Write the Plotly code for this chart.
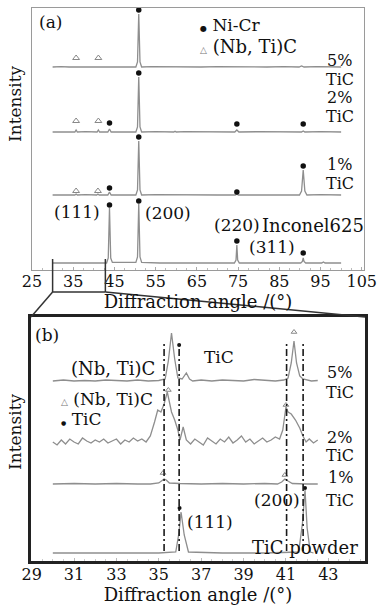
import plotly.graph_objects as go

# ---------------- Panel (a): full 2θ range ----------------
a_offsets = {"5%": 203, "2%": 138, "1%": 75, "Inconel625": 7}

a_x_5 = [30, 32, 34, 35.4, 35.7, 36.0, 38, 40.8, 41.1, 41.4, 43, 45, 47, 50.2, 50.6, 50.9, 51.2, 51.6,
         54, 58, 62, 66, 70, 74, 78, 82, 86, 89.8, 90.4, 91.0, 94, 97, 100]
a_y_5 = [0, 0.4, 0, 0, 0.6, 0, 0.3, 0, 0.6, 0, 0.3, 0, 0.3, 0, 5, 53, 5, 0,
         0.3, 0, 0.4, 0, 0.3, 0, 0.3, 0, 0.3, 0, 1, 0, 0.3, 0, 0]

a_x_2 = [30, 33, 35.4, 35.7, 36.0, 38, 40.8, 41.1, 41.4, 43.4, 43.8, 44.2, 47, 50.2, 50.6, 50.9, 51.2, 51.6,
         55, 59.4, 59.7, 60.0, 62, 66, 70, 74.2, 74.7, 75.2, 80, 85, 90.4, 90.8, 91.2, 95, 100]
a_y_2 = [0, 0.3, 0, 2, 0, 0.3, 0, 2, 0, 0, 3, 0, 0.3, 0, 5, 55, 5, 0,
         0.3, 0, 0.8, 0, 0.3, 0, 0.3, 0, 2, 0, 0.3, 0, 0, 1, 0, 0.3, 0]

a_x_1 = [30, 33, 35.4, 35.7, 36.0, 38, 40.7, 41.0, 41.3, 43.4, 43.8, 44.2, 47, 50.2, 50.6, 50.9, 51.2, 51.6,
         55, 60, 65, 70, 74.3, 74.7, 75.1, 80, 85, 89.9, 90.4, 90.8, 91.2, 91.7, 95, 100]
a_y_1 = [0, 0.3, 0, 1, 0, 0.3, 0, 1, 0, 0, 3, 0, 0.3, 0, 5, 54, 5, 0,
         0.3, 0, 0.3, 0, 0, 0.8, 0, 0.3, 0, 0, 4, 25, 4, 0, 0.3, 0]

a_x_inc = [30, 35, 40, 43.1, 43.5, 43.8, 44.1, 44.5, 47, 50.2, 50.6, 50.9, 51.2, 51.6, 56, 62, 68,
           74.1, 74.5, 74.7, 74.9, 75.3, 80, 85, 90.2, 90.6, 90.8, 91.0, 91.4, 95.3, 95.7, 96.1, 100]
a_y_inc = [0, 0.3, 0, 0, 5, 55, 5, 0.6, 0.6, 0.6, 6, 59, 6, 0.6, 0, 0.3, 0,
           0, 3, 18, 3, 0, 0.3, 0, 0, 1.5, 5, 1.5, 0, 0, 1, 0, 0]

# phase markers (angle, height above own baseline)
a_nicr = {
    "5%": ([50.9], [57]),
    "2%": ([43.8, 50.9, 74.7, 90.8], [9, 59, 8, 8]),
    "1%": ([43.8, 50.9, 74.7, 90.8], [7, 58, 3, 29]),
    "Inconel625": ([43.8, 50.9, 74.7, 90.8], [58, 62, 22, 10]),
}
a_nbtic = {
    "5%": ([35.7, 41.1], [9, 9]),
    "2%": ([35.7, 41.1], [11, 11]),
    "1%": ([35.7, 41.0], [4, 4]),
}
a_ticks = [25, 35, 45, 55, 65, 75, 85, 95, 105]

# ---------------- Panel (b): 29–45° zoom ----------------
b_offsets = {"5%": 180, "2%": 119, "1%": 77, "TiC powder": 8}

b_x_5 = [30, 30.5, 31, 31.5, 32, 32.5, 33, 33.5, 34, 34.5, 35, 35.3, 35.45, 35.6, 35.75, 35.9, 36.1,
         36.3, 36.45, 36.6, 37, 37.5, 38, 38.5, 39, 39.5, 40, 40.5, 40.9, 41.1, 41.25, 41.38, 41.5,
         41.65, 41.8, 42, 42.2, 42.5]
b_y_5 = [0, 1, 0, 0.5, 0, 1, 0.5, 0, 1, 0, 0.5, 2, 20, 48, 22, 3, 2,
         8, 2, 0, 1, 0, 1, 0.5, 0, 1.5, 0.5, 0, 1, 3, 18, 40, 18,
         5, 2, 1, 0, 0.5]

b_x_2 = [30.0, 30.2, 30.4, 30.6, 30.8, 31.0, 31.2, 31.4, 31.6, 31.8, 32.0, 32.2, 32.4, 32.6, 32.8,
         33.0, 33.2, 33.4, 33.6, 33.8, 34.0, 34.2, 34.4, 34.6, 34.8, 34.95, 35.1, 35.25, 35.4, 35.5,
         35.6, 35.75, 35.9, 36.0, 36.15, 36.3, 36.5, 36.7, 36.9, 37.1, 37.3, 37.5, 37.7, 37.9, 38.1,
         38.3, 38.5, 38.7, 38.9, 39.1, 39.3, 39.5, 39.7, 39.9, 40.1, 40.3, 40.5, 40.7, 40.85, 41.0,
         41.1, 41.25, 41.45, 41.65, 41.8, 41.95, 42.1, 42.3, 42.5]
b_y_2 = [0, -3, 2, -2, 3, 0, -2, 4, 1, -1, 2, 0, 3, -1, 1,
         3, -2, 2, 0, 4, 1, 3, 0, 6, 20, 32, 30, 38, 50, 40,
         30, 22, 12, 2, 15, 2, -2, 3, 0, -3, 4, 1, -2, 3, 0,
         5, -1, 2, 6, 0, 3, -2, 1, 4, 0, 2, 5, 3, 12, 35,
         30, 28, 22, 14, 6, 0, 3, -1, 2]

b_x_1 = [30, 31, 32, 33, 34, 34.6, 35.0, 35.15, 35.25, 35.35, 35.5, 36, 37, 38, 39, 40,
         40.6, 40.8, 40.95, 41.1, 41.3, 42, 42.5]
b_y_1 = [0, 0.5, 0, 0.5, 0, 0, 1, 4, 5, 4, 1, 0.5, 0, 0.5, 0, 0.5,
         0, 2, 5, 3, 0.5, 0, 0]

b_x_p = [30, 33, 35, 35.8, 35.95, 36.05, 36.2, 36.4, 38, 40, 41.6, 41.78, 41.9, 42.0, 42.15, 42.3]
b_y_p = [0, 0, 0, 1, 20, 41, 18, 1, 0, 0, 1, 30, 63, 25, 1, 0]

b_nbtic = {
    "5%": ([41.38], [49]),
    "2%": ([35.45, 41.0], [52, 37]),
    "1%": ([35.2, 40.95], [11, 9]),
}
b_tic = {
    "5%": ([35.96], [36]),
    "TiC powder": ([35.98, 41.9], [45, 65]),
}
b_ref_lines = [35.25, 35.96, 41.03, 41.81]
b_ticks = [29, 31, 33, 35, 37, 39, 41, 43]

# ---------------- figure ----------------
FONT = "DejaVu Serif"
LINE = "#8e8e8e"
W, H = 382, 612
ML, MR, MT, MB = 31, 17, 8, 51
PW, PH = W - ML - MR, H - MT - MB

A_XDOM = [(32 - ML) / PW, (364 - ML) / PW]
A_YDOM = [(H - MB - 270) / PH, 1.0]
B_XDOM = [0.0, 1.0]
B_YDOM = [0.0, (H - MB - 317) / PH]
A_XR = [25, 105.55]
B_XR = [28.97, 44.73]


def P(px, py):
    return (px - ML) / PW, (H - MB - py) / PH


fig = go.Figure()

a_series = [("5%", a_x_5, a_y_5), ("2%", a_x_2, a_y_2), ("1%", a_x_1, a_y_1), ("Inconel625", a_x_inc, a_y_inc)]
for name, xs, ys in a_series:
    off = a_offsets[name]
    fig.add_trace(go.Scatter(x=xs, y=[v + off for v in ys], mode="lines", line=dict(color=LINE, width=1.3),
                             xaxis="x", yaxis="y", showlegend=False, name=name))
for name, (xs, hs) in a_nicr.items():
    off = a_offsets[name]
    fig.add_trace(go.Scatter(x=xs, y=[h + off for h in hs], mode="markers",
                             marker=dict(symbol="circle", size=5.5, color="#111"),
                             xaxis="x", yaxis="y", showlegend=False, name="Ni-Cr"))
for name, (xs, hs) in a_nbtic.items():
    off = a_offsets[name]
    fig.add_trace(go.Scatter(x=xs, y=[h + off for h in hs], mode="markers",
                             marker=dict(symbol="triangle-up-open", size=6, color="#888", line=dict(width=1)),
                             xaxis="x", yaxis="y", showlegend=False, name="(Nb, Ti)C"))

b_series = [("5%", b_x_5, b_y_5), ("2%", b_x_2, b_y_2), ("1%", b_x_1, b_y_1), ("TiC powder", b_x_p, b_y_p)]
for name, xs, ys in b_series:
    off = b_offsets[name]
    fig.add_trace(go.Scatter(x=xs, y=[v + off for v in ys], mode="lines", line=dict(color=LINE, width=1.3),
                             xaxis="x2", yaxis="y2", showlegend=False, name=name))
for name, (xs, hs) in b_nbtic.items():
    off = b_offsets[name]
    fig.add_trace(go.Scatter(x=xs, y=[h + off for h in hs], mode="markers",
                             marker=dict(symbol="triangle-up-open", size=5, color="#888", line=dict(width=1)),
                             xaxis="x2", yaxis="y2", showlegend=False, name="(Nb, Ti)C"))
for name, (xs, hs) in b_tic.items():
    off = b_offsets[name]
    fig.add_trace(go.Scatter(x=xs, y=[h + off for h in hs], mode="markers",
                             marker=dict(symbol="circle", size=4, color="#111"),
                             xaxis="x2", yaxis="y2", showlegend=False, name="TiC"))

# dash-dot reference lines in panel (b)
for xv in b_ref_lines:
    fig.add_shape(type="line", xref="x2", yref="y2", x0=xv, x1=xv, y0=10, y1=220,
                  line=dict(color="#1a1a1a", width=1.6, dash="7px,3px,2px,3px"))


# zoom bracket linking panel (a) 30–42.8° to panel (b)
def a_paper_x(v):
    return A_XDOM[0] + (v - A_XR[0]) / (A_XR[1] - A_XR[0]) * (A_XDOM[1] - A_XDOM[0])


bx0, bx1 = a_paper_x(30), a_paper_x(42.8)
y_top = P(0, 259)[1]
y_bot = P(0, 292)[1]
bracket = dict(color="#333", width=1.5)
fig.add_shape(type="line", xref="paper", yref="paper", x0=bx0, x1=bx0, y0=y_top, y1=y_bot, line=bracket)
fig.add_shape(type="line", xref="paper", yref="paper", x0=bx1, x1=bx1, y0=y_top, y1=y_bot, line=bracket)
fig.add_shape(type="line", xref="paper", yref="paper", x0=bx0, x1=bx1, y0=y_bot, y1=y_bot, line=bracket)
fig.add_shape(type="line", xref="paper", yref="paper", x0=bx0, x1=B_XDOM[0], y0=y_bot, y1=B_YDOM[1], line=bracket)
fig.add_shape(type="line", xref="paper", yref="paper", x0=bx1, x1=B_XDOM[1], y0=y_bot, y1=B_YDOM[1], line=bracket)

# text labels (x px, y px, text, anchor, font size)
DOT = '<span style="font-size:8px">●</span>'
SDOT = '<span style="font-size:6px">●</span>'
TRI = '<span style="font-size:9px;color:#777">△</span>'
labels = [
    (50, 22, "(a)", "center", 17),
    (198, 25, DOT + " Ni-Cr", "left", 17),
    (198, 47, TRI + " (Nb, Ti)C", "left", 18),
    (339, 60, "5%", "center", 16), (340, 79, "TiC", "center", 16),
    (339, 97, "2%", "center", 16), (340, 117, "TiC", "center", 16),
    (339, 164, "1%", "center", 16), (340, 184, "TiC", "center", 16),
    (77, 212, "(111)", "center", 17), (168, 213, "(200)", "center", 17),
    (237, 225, "(220)", "center", 17), (313, 225, "Inconel625", "center", 18),
    (272, 247, "(311)", "center", 17),
    (47, 335, "(b)", "center", 17),
    (113, 368, "(Nb, Ti)C", "center", 18), (219, 357, "TiC", "center", 17),
    (339, 372, "5%", "center", 16), (340, 392, "TiC", "center", 16),
    (59, 399, TRI + " (Nb, Ti)C", "left", 17),
    (59, 419, SDOT + " TiC", "left", 17),
    (339, 437, "2%", "center", 16), (340, 455, "TiC", "center", 16),
    (340, 477, "1%", "center", 16), (340, 500, "TiC", "center", 16),
    (277, 500, "(200)", "center", 17), (210, 522, "(111)", "center", 17),
    (305, 547, "TiC powder", "center", 18),
]
for px, py, t, anc, fs in labels:
    xp, yp = P(px, py)
    fig.add_annotation(x=xp, y=yp, xref="paper", yref="paper", text=t, showarrow=False,
                       xanchor=anc, yanchor="middle", font=dict(family=FONT, size=fs, color="#111"))

for py in (104, 432):
    xp, yp = P(15, py)
    fig.add_annotation(x=xp, y=yp, xref="paper", yref="paper", text="Intensity", textangle=-90,
                       showarrow=False, xanchor="center", yanchor="middle",
                       font=dict(family=FONT, size=17, color="#111"))

axis_common = dict(showgrid=False, zeroline=False, showline=True, mirror=True)
fig.update_layout(
    width=W, height=H, margin=dict(l=ML, r=MR, t=MT, b=MB),
    paper_bgcolor="white", plot_bgcolor="white", template="none",
    font=dict(family=FONT, size=16, color="#111"),
    showlegend=False,
    xaxis=dict(domain=A_XDOM, range=A_XR, anchor="y", tickvals=a_ticks,
               linecolor="#9a9a9a", linewidth=1, ticks="inside", ticklen=3, tickcolor="#aaa",
               minor=dict(ticks="inside", ticklen=2, dtick=2.5, tickcolor="#bbb"),
               tickfont=dict(family=FONT, size=16, color="#111"), ticklabelstandoff=-3,
               title=dict(text="Diffraction angle /(°)", font=dict(family=FONT, size=18, color="#111"), standoff=1),
               **axis_common),
    yaxis=dict(domain=A_YDOM, range=[0, 262], anchor="x", showticklabels=False, ticks="",
               linecolor="#9a9a9a", linewidth=1, **axis_common),
    xaxis2=dict(domain=B_XDOM, range=B_XR, anchor="y2", tickvals=b_ticks,
                linecolor="#222", linewidth=2.5, ticks="inside", ticklen=3, tickcolor="#bbb",
                minor=dict(ticks="inside", ticklen=2, dtick=0.5, tickcolor="#ccc"),
                tickfont=dict(family=FONT, size=16, color="#111"), ticklabelstandoff=-3,
                title=dict(text="Diffraction angle /(°)", font=dict(family=FONT, size=18, color="#111"), standoff=1),
                **axis_common),
    yaxis2=dict(domain=B_YDOM, range=[0, 244], anchor="x2", showticklabels=False, ticks="",
                linecolor="#222", linewidth=2.5, **axis_common),
)

fig.write_html("out.html", config={"displayModeBar": False},
               post_script="document.body.style.margin='0';document.body.style.overflow='hidden';")
